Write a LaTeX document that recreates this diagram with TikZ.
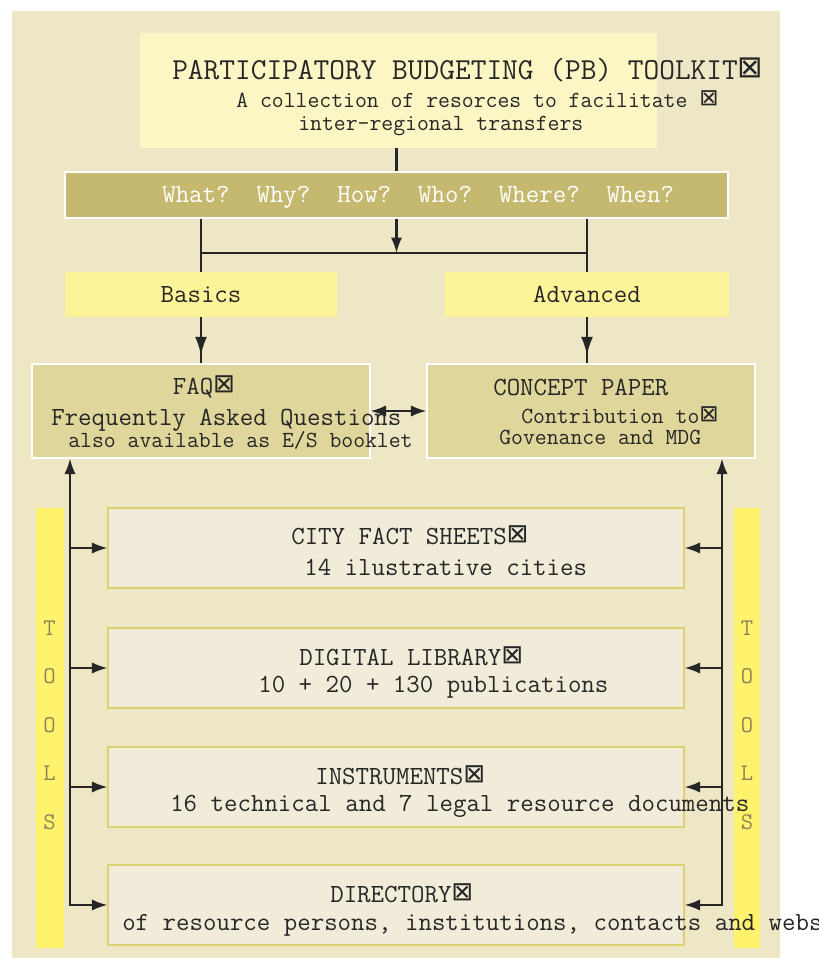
\documentclass[tikz,border=0pt]{standalone}
\usepackage{fontspec}
\newfontfamily\symfont{DejaVu Sans}
\usetikzlibrary{arrows.meta, calc, decorations.markings}
\definecolor{panelbg}{HTML}{EEE7C6}
\definecolor{topfill}{HTML}{FCF6C4}
\definecolor{barolive}{HTML}{C5B96F}
\definecolor{levelyel}{HTML}{FDF49A}
\definecolor{docfill}{HTML}{DFD69B}
\definecolor{toolfill}{HTML}{F1ECD9}
\definecolor{tooledge}{HTML}{DCD172}
\definecolor{stripyel}{HTML}{FFF26C}
\definecolor{letgray}{HTML}{8C8458}
\definecolor{inkdark}{HTML}{262626}

\newcommand{\crbox}{{\symfont\raisebox{0.15ex}{⊠}}}
\newcommand{\ftitle}{\fontsize{21.7}{26}\selectfont\ttfamily}
\newcommand{\fsub}{\fontsize{16.4}{20}\selectfont\ttfamily}
\newcommand{\fmain}{\fontsize{18.6}{22}\selectfont\ttfamily}

\tikzset{
  lbl/.style={anchor=west, inner sep=0pt, text=inkdark},
  link/.style={inkdark, line width=1.5pt},
  midtip/.style={postaction={decorate}, decoration={markings,
      mark=at position 0.82 with {\arrow{Latex[length=13pt, width=8.5pt]}}}},
  levelbox/.style={fill=levelyel, minimum width=#1, minimum height=1.125cm,
      font=\fmain, text=inkdark},
  docbox/.style={fill=docfill, draw=white, line width=0.8pt,
      minimum width=#1, minimum height=2.35cm},
  toolbox/.style={fill=toolfill, draw=tooledge, line width=0.8pt,
      minimum width=14.4cm, minimum height=2.0cm},
  toolsletter/.style={text=letgray, inner sep=0pt,
      font=\fontsize{17}{20}\selectfont\ttfamily}
}

\begin{document}
\begin{tikzpicture}[>={Latex[length=11pt, width=8pt]}]
\useasboundingbox (0,0) rectangle (20.475,24.075);

% Background
\fill[panelbg] (0.30,0.13) rectangle (19.50,23.80);

% Toolkit title
\node[fill=topfill, minimum width=12.925cm, minimum height=2.875cm] (toolkit) at (9.96,21.81) {};
\node[lbl, font=\ftitle] (tktitle) at (4.30,22.325) {PARTICIPATORY BUDGETING (PB) TOOLKIT\crbox};
\node[lbl, font=\fsub] (tksub) at (5.90,21.60) {A collection of resorces to facilitate \crbox};
\node[lbl, font=\fsub] (tksubb) at (7.45,20.925) {inter-regional transfers};

% Question bar
\node[fill=barolive, draw=white, line width=0.8pt, minimum width=16.575cm, minimum height=1.15cm] (header) at (9.9125,19.20) {};
\node[lbl, text=white, font=\fmain] (questions) at (4.05,19.15)
  {What?\ \ Why?\ \ How?\ \ Who?\ \ Where?\ \ When?};

% Levels
\node[levelbox=6.80cm] (basics) at (5.025,16.7125) {Basics};
\node[levelbox=7.10cm] (advanced) at (14.675,16.7125) {Advanced};

% FAQ and concept paper
\node[docbox=8.45cm] (faq) at (5.025,13.80) {};
\node[lbl, anchor=center, font=\fmain] (faqtitle) at (5.10,14.40) {FAQ\crbox};
\node[lbl, font=\fmain] (faqa) at (1.275,13.575) {Frequently Asked Questions};
\node[lbl, font=\fsub] (faqb) at (1.70,13.075) {also available as E/S booklet};

\node[docbox=8.20cm] (concept) at (14.775,13.80) {};
\node[lbl, font=\fmain] (cptitle) at (12.325,14.40) {CONCEPT PAPER};
\node[lbl, font=\fsub] (cpa) at (13.025,13.70) {Contribution to\crbox};
\node[lbl, font=\fsub] (cpb) at (12.475,13.15) {Govenance and MDG};

% Tools strips
\fill[stripyel] (0.8875,0.375) rectangle (1.60,11.375);
\fill[stripyel] (18.35,0.375) rectangle (19.00,11.375);
\foreach \l [count=\i] in {T,O,O,L,S} {
  \node[toolsletter] (lt\i) at (1.24,{8.375-1.2125*(\i-1)}) {\l};
  \node[toolsletter] (rt\i) at (18.675,{8.375-1.2125*(\i-1)}) {\l};
}

% Tool boxes
\node[toolbox] (city) at (9.90,10.375) {};
\node[lbl, font=\fmain] (citya) at (7.275,10.70) {CITY FACT SHEETS\crbox};
\node[lbl, font=\fmain] (cityb) at (7.60,9.90) {14 ilustrative cities};

\node[toolbox] (library) at (9.90,7.375) {};
\node[lbl, font=\fmain] (librarya) at (7.475,7.675) {DIGITAL LIBRARY\crbox};
\node[lbl, font=\fmain] (libraryb) at (6.45,6.90) {10 + 20 + 130 publications};

\node[toolbox] (instruments) at (9.90,4.40) {};
\node[lbl, font=\fmain] (instra) at (7.875,4.70) {INSTRUMENTS\crbox};
\node[lbl, font=\fmain] (instrb) at (4.25,3.925) {16 technical and 7 legal resource documents};

\node[toolbox] (directory) at (9.90,1.45) {};
\node[lbl, font=\fmain] (dira) at (8.25,1.75) {DIRECTORY\crbox};
\node[lbl, font=\fmain] (dirb) at (3.05,0.95) {of resource persons, institutions, contacts and webs};

% Connectors
\coordinate (split) at (9.9125,17.75);
\coordinate (lbus) at (1.75,1.45);
\coordinate (rbus) at (18.05,1.45);

\draw[link] (header.north |- toolkit.south) -- (header.north);
\draw[link, ->] (header.south) -- (split);
\draw[link] (header.south -| basics.north) -- (basics.north);
\draw[link] (header.south -| advanced.north) -- (advanced.north);
\draw[link] (split -| basics.north) -- (split -| advanced.north);
\draw[link, midtip] (basics.south) -- (faq.north);
\draw[link, midtip] (advanced.south) -- (advanced.south |- concept.north);
\draw[link, <->] (faq.east) -- (concept.west);

\draw[link, <->] (lbus |- faq.south) -- (lbus) -- (directory.west);
\draw[link, <->] (rbus |- concept.south) -- (rbus) -- (directory.east);
\foreach \t in {city, library, instruments} {
  \draw[link, ->] (lbus |- \t.west) -- (\t.west);
  \draw[link, ->] (rbus |- \t.east) -- (\t.east);
}

\end{tikzpicture}
\end{document}
